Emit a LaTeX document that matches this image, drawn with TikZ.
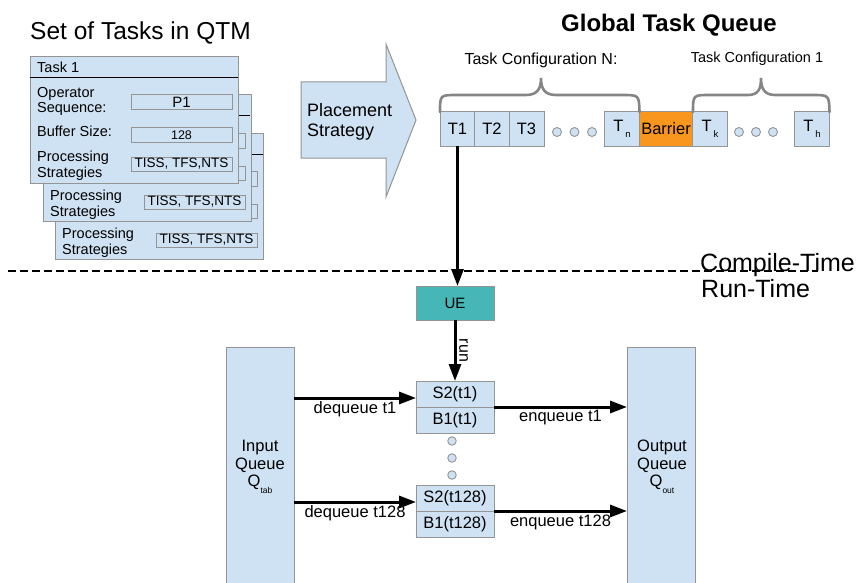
\documentclass[tikz,border=0pt]{standalone}
\usepackage{fontspec}
\setmainfont{Liberation Sans}
\usetikzlibrary{arrows.meta,calc}
\definecolor{lblue}{HTML}{CFE2F3}
\definecolor{bgray}{HTML}{949494}
\definecolor{tealbox}{HTML}{47B6B6}
\definecolor{orng}{HTML}{F8961E}
\definecolor{brgray}{HTML}{858585}
\newcommand\fsz[2]{\fontsize{#1}{#2}\selectfont}
\begin{document}
\begin{tikzpicture}[x=1pt,y=-1pt,
  box/.style={draw=bgray, fill=lblue, line width=1pt, inner sep=0pt, outer sep=0pt},
  card/.style={box, anchor=north west, minimum width=208pt, minimum height=126pt},
  fieldbox/.style={box, anchor=north west, minimum width=101pt, minimum height=15pt},
  hline/.style={line width=1pt, black},
  cardtxt/.style={inner sep=0pt, anchor=north west, align=left, font=\fsz{14.5}{15.5}},
  qbox/.style={box, minimum width=35pt, minimum height=34pt, font=\fsz{16.5}{18}},
  dotc/.style={circle, draw=bgray, fill=lblue, line width=0.9pt, minimum size=9pt, inner sep=0pt},
  brace/.style={draw=brgray, line width=2.6pt, line cap=round},
  arr/.style={line width=3pt, -{Triangle[length=17pt,width=12pt]}},
  lbl/.style={inner sep=0pt, font=\fsz{16.5}{18}},
  stbox/.style={box, minimum width=78pt, minimum height=26pt, font=\fsz{16.5}{18}},
  queue/.style={box, anchor=north west, minimum width=68pt, minimum height=245pt},
]
\clip (0,0) rectangle (856,583);
\useasboundingbox (0,0) rectangle (856,583);

% ---- titles
\node[inner sep=0pt, anchor=base west, font=\fsz{24.5}{26}] (ttasks) at (30,40) {Set of Tasks in QTM};
\node[inner sep=0pt, anchor=base west, font=\bfseries\fsz{24}{26}] (tgtq) at (561,32) {Global Task Queue};

% ---- card 3
\begin{scope}[shift={(55,133)}]
  \node[card] (c3) at (0,0) {};
  \draw[hline] (0,21) -- (208,21);
  \node[fieldbox] (c3f1) at (101,38) {};
  \node[fieldbox, minimum height=14pt] (c3f2) at (101,71) {};
  \node[fieldbox, minimum height=14pt, font=\fsz{13.5}{14}] (c3f3) at (101,100) {TISS, TFS,NTS};
  \node[cardtxt] (c3t3) at (7,95) {Processing\\Strategies};
\end{scope}
% ---- card 2
\begin{scope}[shift={(43,95)}]
  \node[card] (c2) at (0,0) {};
  \draw[hline] (0,21) -- (207,21);
  \node[fieldbox] (c2f1) at (101,38) {};
  \node[fieldbox, minimum height=14pt] (c2f2) at (101,71) {};
  \node[fieldbox, minimum height=14pt, font=\fsz{13.5}{14}] (c2f3) at (101,100) {TISS, TFS,NTS};
  \node[cardtxt] (c2t3) at (7,95) {Processing\\Strategies};
\end{scope}
% ---- card 1
\begin{scope}[shift={(30,57)}]
  \node[card] (c1) at (0,0) {};
  \draw[hline] (0,21) -- (208,21);
  \node[fieldbox, font=\fsz{15}{16}] (c1f1) at (101,38) {P1};
  \node[fieldbox, minimum height=14pt, font=\fsz{12.5}{14}] (c1f2) at (101,71) {128};
  \node[fieldbox, minimum height=14pt, font=\fsz{13.5}{14}] (c1f3) at (101,100) {TISS, TFS,NTS};
  \node[inner sep=0pt, anchor=base west, font=\fsz{14.5}{15}] (c1h) at (7,16) {Task 1};
  \node[cardtxt] (c1t1) at (7,30) {Operator\\Sequence:};
  \node[inner sep=0pt, anchor=base west, font=\fsz{14.5}{15}] (c1t2) at (7,79) {Buffer Size:};
  \node[cardtxt] (c1t3) at (7,94) {Processing\\Strategies};
\end{scope}

% ---- placement strategy arrow
\draw[draw=bgray, fill=lblue, line width=1pt, line join=miter]
  (301,82) -- (386,82) -- (386,44) -- (416,120) -- (386,197) -- (386,158) -- (301,158) -- cycle;
\node[inner sep=0pt, anchor=north west, align=left, font=\fsz{18}{20}] (place) at (307,103) {Placement\\Strategy};

% ---- global task queue
\node[qbox] (t1) at (457.5,129) {T1};
\node[qbox] (t2) at (492,129) {T2};
\node[qbox] (t3) at (526.5,129) {T3};
\node[dotc] (d1) at (557,132) {};
\node[dotc] (d2) at (574.5,132) {};
\node[dotc] (d3) at (592,132) {};
\node[qbox] (tn) at (622,129) {T\kern2pt\raisebox{-6pt}{\fsz{9.5}{9}n}};
\node[box, fill=orng, minimum width=54pt, minimum height=34pt, font=\fsz{16.5}{18}] (barrier) at (666,129) {Barrier};
\node[qbox] (tk) at (710,129) {T\kern2pt\raisebox{-6pt}{\fsz{9.5}{9}k}};
\node[dotc] (d4) at (739,132) {};
\node[dotc] (d5) at (756,132) {};
\node[dotc] (d6) at (773,132) {};
\node[qbox] (th) at (812,129) {T\kern2pt\raisebox{-6pt}{\fsz{9.5}{9}h}};

% braces
\draw[brace] (t1.north west) .. controls (440,95) .. (457,95) -- (526,95)
  .. controls (538,95) and (541,88) .. (541,78)
  .. controls (541,88) and (544,95) .. (556,95) -- (622,95)
  .. controls (639,95) .. (tn.north east);
\draw[brace] (barrier.north east) .. controls (693,95) .. (710,95) -- (748,95)
  .. controls (759,95) and (761,88) .. (761,78)
  .. controls (761,88) and (764,95) .. (775,95) -- (812,95)
  .. controls (829,95) .. (th.north east);
\node[inner sep=0pt, font=\fsz{16}{17}] (cfgN) at (541,60) {Task Configuration N:};
\node[inner sep=0pt, font=\fsz{14.5}{16}] (cfg1) at (757,59) {Task Configuration 1};

% ---- compile/run time separator
\coordinate (dl) at (8,271);
\coordinate (dr) at (818,271);
\draw[line width=2.6pt, dash pattern=on 8pt off 4pt] (dl) -- (dr);
\node[inner sep=0pt, anchor=base west, font=\fsz{25}{26}] (ctime) at (700,271) {Compile-Time};
\node[inner sep=0pt, anchor=base west, font=\fsz{25}{26}] (rtime) at (701,297) {Run-Time};

% ---- run-time part
\node[box, fill=tealbox, minimum width=78pt, minimum height=34pt, font=\fsz{15}{16}] (ue) at (455,303) {UE};
\draw[arr] (t1.south) -- (t1.south |- ue.north);

\node[stbox] (s2a) at (455,394) {S2(t1)};
\node[stbox] (b1a) at (455,420) {B1(t1)};
\node[dotc, minimum size=8.5pt] (v1) at (452,441) {};
\node[dotc, minimum size=8.5pt] (v2) at (452,458) {};
\node[dotc, minimum size=8.5pt] (v3) at (452,475) {};
\node[stbox] (s2b) at (455,498) {S2(t128)};
\node[stbox] (b1b) at (455,524) {B1(t128)};

\draw[arr] (ue.south) -- (s2a.north);
\node[inner sep=0pt, rotate=-90, font=\fsz{16}{16}] (runlbl) at ($(ue.south)!0.5!(s2a.north)+(8.5,0)$) {run};

\node[queue] (inq) at (226,347) {};
\node[inner sep=0pt, anchor=north, align=center, font=\fsz{16.5}{17.5}] (inqt) at (260,440)
  {Input\\Queue\\Q\raisebox{-7pt}{\fsz{8.5}{8}tab}};
\node[queue] (outq) at (627,347) {};
\node[inner sep=0pt, anchor=north, align=center, font=\fsz{16.5}{17.5}] (outqt) at (662,440)
  {Output\\Queue\\Q\raisebox{-7pt}{\fsz{8.5}{8}out}};

\draw[arr] (inq.east |- 0,398) -- node[lbl, anchor=north, yshift=-2pt] (deq1) {dequeue t1} (s2a.west |- 0,398);
\draw[arr] (b1a.north east) -- node[lbl, anchor=north, yshift=-2pt] (enq1) {enqueue t1} (outq.west |- b1a.north);
\draw[arr] (inq.east |- 0,502) -- node[lbl, anchor=north, yshift=-2pt] (deq2) {dequeue t128} (s2b.west |- 0,502);
\draw[arr] (b1b.north east) -- node[lbl, anchor=north, yshift=-2pt] (enq2) {enqueue t128} (outq.west |- b1b.north);
\end{tikzpicture}
\end{document}
